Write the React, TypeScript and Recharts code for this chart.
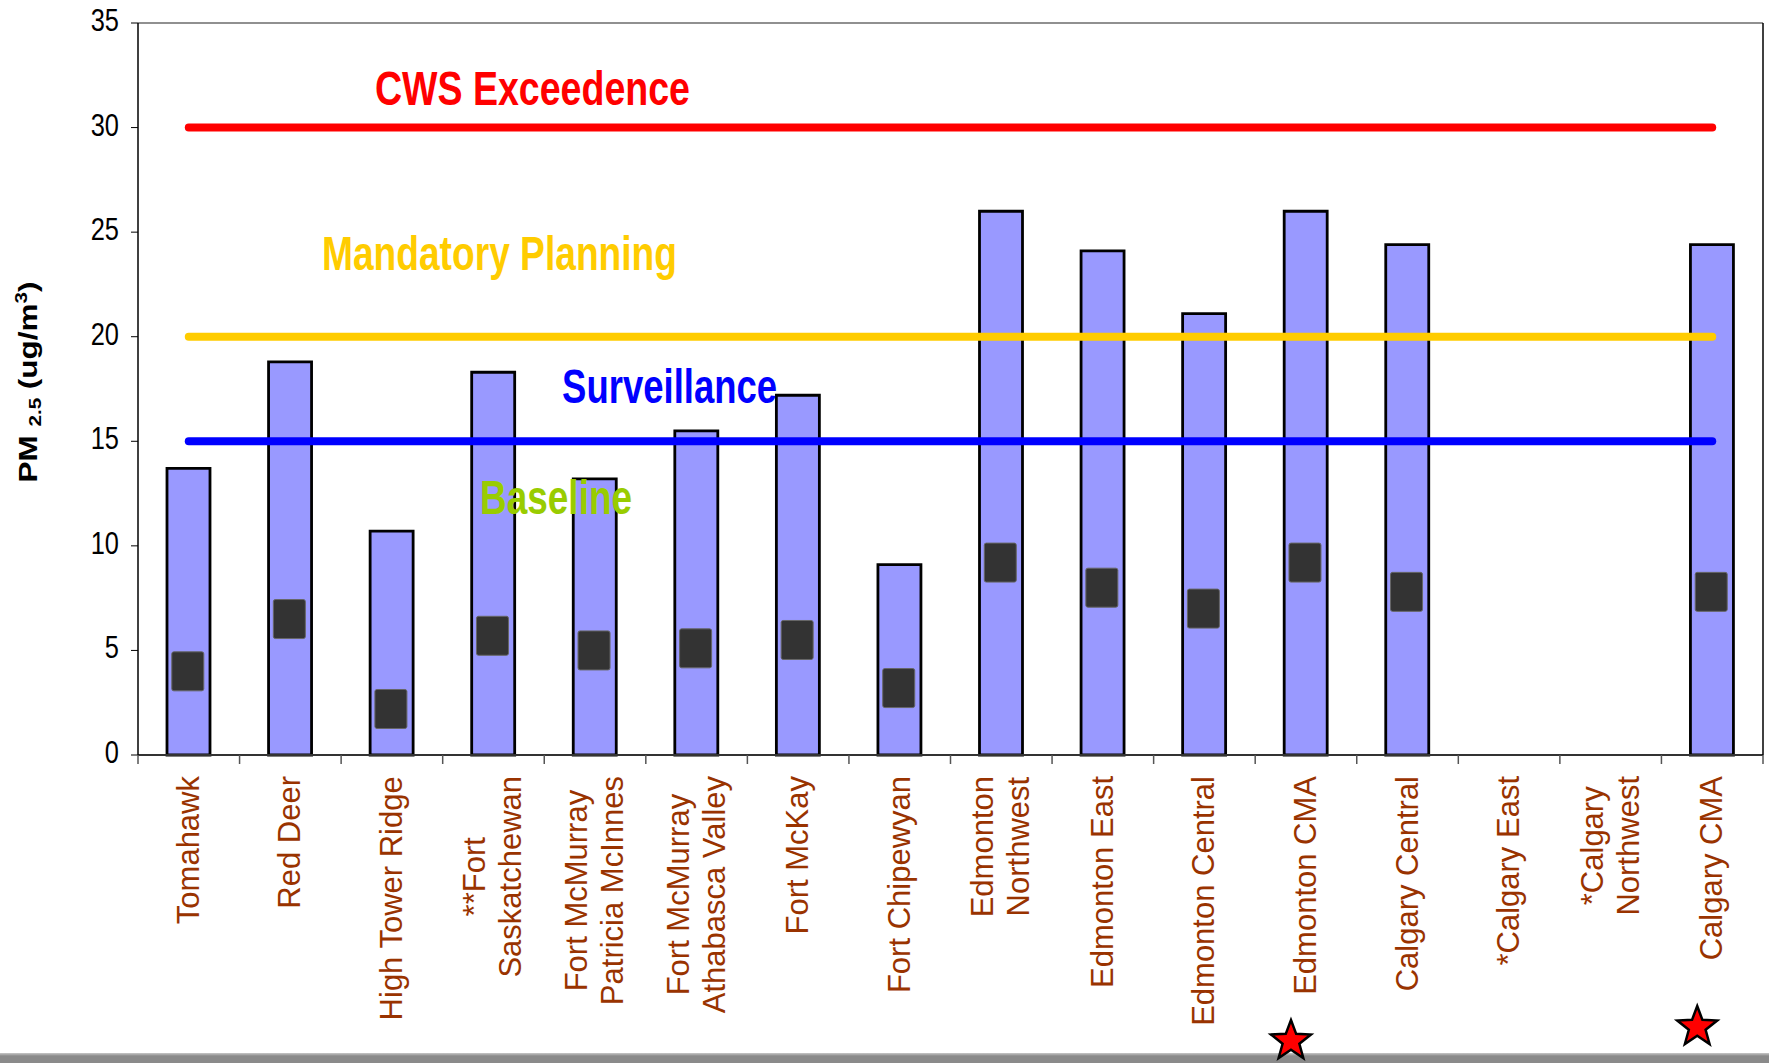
import React from 'react';
import { ComposedChart, XAxis, YAxis, CartesianGrid, Bar, Line, ReferenceDot } from 'recharts';

const categories = [
  'Tomahawk',
  'Red Deer',
  'High Tower Ridge',
  '**Fort\nSaskatchewan',
  'Fort McMurray\nPatricia McInnes',
  'Fort McMurray\nAthabasca Valley',
  'Fort McKay',
  'Fort Chipewyan',
  'Edmonton\nNorthwest',
  'Edmonton East',
  'Edmonton Central',
  'Edmonton CMA',
  'Calgary Central',
  '*Calgary East',
  '*Calgary\nNorthwest',
  'Calgary CMA',
];
const maxValues = [13.7, 18.8, 10.7, 18.3, 13.2, 15.5, 17.2, 9.1, 26.0, 24.1, 21.1, 26.0, 24.4, null, null, 24.4];
const meanValues = [4.0, 6.5, 2.2, 5.7, 5.0, 5.1, 5.5, 3.2, 9.2, 8.0, 7.0, 9.2, 7.8, null, null, 7.8];
const starred = ['Edmonton CMA', 'Calgary CMA'];
const yTicks = [0, 5, 10, 15, 20, 25, 30, 35];

const cwsLevel = 30;
const planningLevel = 20;
const surveillanceLevel = 15;

const data = categories.map((name, i) => ({
  name,
  max: maxValues[i],
  mean: meanValues[i],
  cws: cwsLevel,
  planning: planningLevel,
  surveillance: surveillanceLevel,
}));

// layout
const W = 1769;
const H = 1063;
const PLOT_LEFT = 138;
const PLOT_RIGHT = 1763;
const BAND = (PLOT_RIGHT - PLOT_LEFT) / categories.length;
const LABEL_TOP = 776;
const LABEL_SIZE = 31;
const FONT = "'Liberation Sans', Arial, sans-serif";
const STAR_Y: Record<string, number> = { 'Edmonton CMA': 1041, 'Calgary CMA': 1027 };

const annotations = [
  { text: 'CWS Exceedence', color: '#FF0000', at: 3, y: 31.9, dx: 39, len: 315 },
  { text: 'Mandatory Planning', color: '#FFCC00', at: 3, y: 24.0, dx: 6, len: 355 },
  { text: 'Surveillance', color: '#0000FF', at: 5, y: 17.65, dx: -27, len: 215 },
  { text: 'Baseline', color: '#99CC00', at: 4, y: 12.35, dx: -39, len: 152 },
];

let measureCtx: CanvasRenderingContext2D | null = null;
const measure = (s: string) => {
  if (!measureCtx) {
    measureCtx = document.createElement('canvas').getContext('2d');
  }
  if (!measureCtx) return s.length * 15.5;
  measureCtx.font = `${LABEL_SIZE}px 'Liberation Sans'`;
  return measureCtx.measureText(s).width;
};

const starPoints = (cx: number, cy: number, r: number) => {
  const pts: string[] = [];
  for (let i = 0; i < 10; i++) {
    const rad = i % 2 === 0 ? r : r * 0.42;
    const a = -Math.PI / 2 + (i * Math.PI) / 5;
    pts.push(`${cx + rad * Math.cos(a)},${cy + rad * Math.sin(a)}`);
  }
  return pts.join(' ');
};

const XTick = (props: any) => {
  const { x, y, payload, index } = props;
  const lines = String(payload.value).split('\n');
  const n = lines.length;
  const longest = Math.max(...lines.map((l) => measure(l)));
  const mid = -longest / 2;
  return (
    <g>
      <line x1={x - BAND / 2} y1={y} x2={x - BAND / 2} y2={y + 9} stroke="#555" strokeWidth={1.5} />
      {index === categories.length - 1 && (
        <line x1={x + BAND / 2} y1={y} x2={x + BAND / 2} y2={y + 9} stroke="#555" strokeWidth={1.5} />
      )}
      <text
        transform={`translate(${x},${LABEL_TOP}) rotate(-90)`}
        fontFamily={FONT}
        fontSize={LABEL_SIZE}
        fill="#993300"
      >
        {lines.map((l, i) => (
          <tspan key={i} x={mid} y={(i - (n - 1) / 2) * 36 + 10} textAnchor="middle">
            {l}
          </tspan>
        ))}
      </text>
      {starred.includes(payload.value) && (
        <polygon
          points={starPoints(x - 15, STAR_Y[payload.value] ?? 1035, 21)}
          fill="#FF0000"
          stroke="#000"
          strokeWidth={2.5}
        />
      )}
    </g>
  );
};

const YTick = (props: any) => {
  const { x, y, payload } = props;
  return (
    <text
      transform={`translate(${x},${y - 3}) scale(0.82,1)`}
      textAnchor="end"
      dominantBaseline="central"
      fontFamily={FONT}
      fontSize={31}
      fill="#000"
    >
      {payload.value}
    </text>
  );
};

const YLabel = (props: any) => {
  const vb = props.viewBox;
  return (
    <text
      transform={`translate(${vb.x + 37},${vb.y + vb.height / 2 - 7}) rotate(-90)`}
      textAnchor="middle"
      fontFamily={FONT}
      fontWeight="bold"
      fontSize={26}
      fill="#000"
      textLength={201}
      lengthAdjust="spacingAndGlyphs"
    >
      <tspan>PM </tspan>
      <tspan fontSize={17} dy={4}>2.5</tspan>
      <tspan dy={-4}> (ug/m</tspan>
      <tspan fontSize={17} dy={-10}>3</tspan>
      <tspan dy={10}>)</tspan>
    </text>
  );
};

const MeanDot = (props: any) => {
  const { cx, cy, value, index } = props;
  if (value == null || cy == null) return <g key={index} />;
  return <rect key={index} x={cx - 17} y={cy - 19.5} width={32} height={39} rx={2} fill="#333333" stroke="#666" strokeWidth={1} />;
};

const App: React.FC = () => {
  return (
    <div style={{ position: 'absolute', left: 0, top: 0, width: W, height: H, background: '#fff' }}>
      <div
        style={{
          position: 'absolute',
          left: 0,
          top: 1053,
          width: W,
          height: 10,
          background: 'linear-gradient(#c8c8c8, #8a8a8a 30%, #8a8a8a)',
        }}
      />
      <div style={{ position: 'absolute', left: 0, top: 0 }}>
        <ComposedChart width={W} height={H} data={data} margin={{ top: 23, right: 0, bottom: 0, left: 0 }}>
          <CartesianGrid vertical={false} stroke="#222" strokeWidth={1.2} />
          <XAxis
            dataKey="name"
            interval={0}
            height={308}
            tickSize={0}
            tickMargin={0}
            tick={<XTick />}
            axisLine={{ stroke: '#333', strokeWidth: 2 }}
          />
          <YAxis
            yAxisId="left"
            domain={[0, 35]}
            ticks={yTicks}
            width={138}
            tickSize={7}
            tickMargin={12}
            tick={<YTick />}
            tickLine={{ stroke: '#000' }}
            axisLine={{ stroke: '#000', strokeWidth: 1.5 }}
            label={(p: any) => <YLabel {...p} />}
          />
          <YAxis yAxisId="right" orientation="right" domain={[0, 35]} width={6} tick={false} tickLine={false} axisLine={{ stroke: '#000', strokeWidth: 1.5 }} />
          <Bar yAxisId="left" dataKey="max" barSize={43} fill="#9999FF" stroke="#000" strokeWidth={2.8} isAnimationActive={false} />
          <Line yAxisId="left" dataKey="cws" stroke="#FF0000" strokeWidth={8} strokeLinecap="round" dot={false} activeDot={false} isAnimationActive={false} />
          <Line yAxisId="left" dataKey="planning" stroke="#FFCC00" strokeWidth={8} strokeLinecap="round" dot={false} activeDot={false} isAnimationActive={false} />
          <Line yAxisId="left" dataKey="surveillance" stroke="#0000FF" strokeWidth={8} strokeLinecap="round" dot={false} activeDot={false} isAnimationActive={false} />
          <Line yAxisId="left" dataKey="mean" stroke="none" dot={<MeanDot />} activeDot={false} connectNulls={false} isAnimationActive={false} />
          {annotations.map((a) => (
            <ReferenceDot
              key={a.text}
              yAxisId="left"
              x={categories[a.at]}
              y={a.y}
              r={0}
              ifOverflow="visible"
              shape={(p: any) => (
                <text
                  x={p.cx + a.dx}
                  y={p.cy + 17}
                  textAnchor="middle"
                  fontFamily={FONT}
                  fontWeight="bold"
                  fontSize={48}
                  fill={a.color}
                  textLength={a.len}
                  lengthAdjust="spacingAndGlyphs"
                >
                  {a.text}
                </text>
              )}
            />
          ))}
        </ComposedChart>
      </div>
    </div>
  );
};

export default App;
